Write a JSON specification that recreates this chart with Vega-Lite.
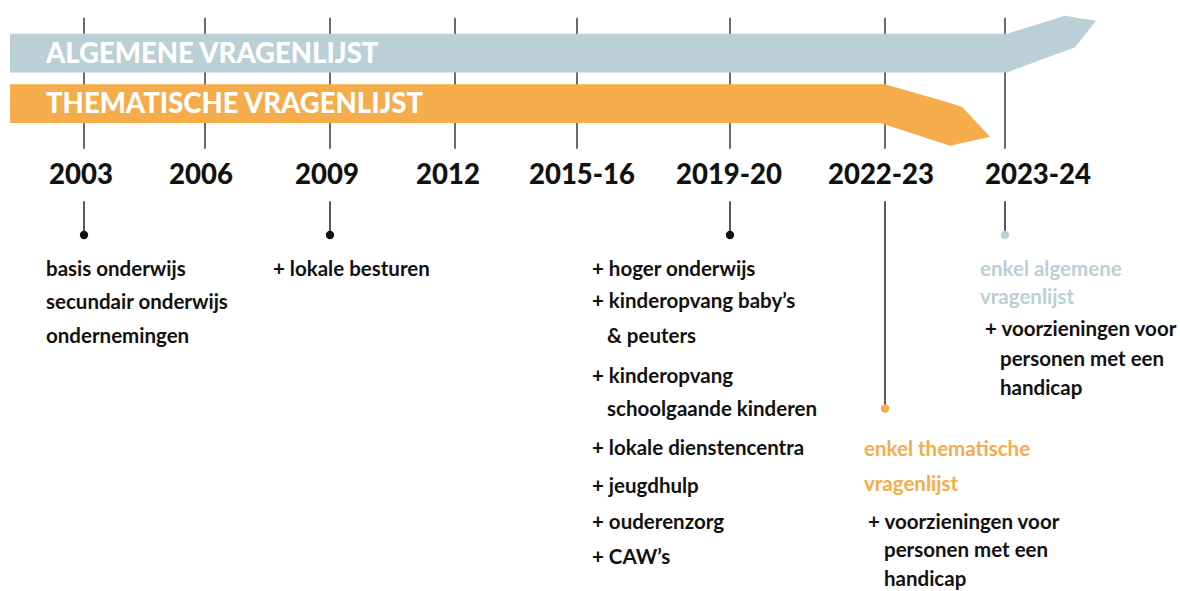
{
  "$schema": "https://vega.github.io/schema/vega-lite/v6.json",
  "width": 1180,
  "height": 591,
  "padding": 0,
  "autosize": {"type": "fit", "contains": "padding"},
  "background": "white",
  "config": {"view": {"stroke": null}},
  "encoding": {
    "x": {"field": "x", "type": "quantitative", "scale": {"domain": [0, 1180], "nice": false, "zero": false}, "axis": null},
    "y": {"field": "y", "type": "quantitative", "scale": {"domain": [0, 591], "nice": false, "zero": false, "reverse": true}, "axis": null}
  },
  "layer": [
    {
      "data": {"values": [
        {"year": "2003", "x": 84, "y": 18, "y2": 150},
        {"year": "2006", "x": 205, "y": 18, "y2": 150},
        {"year": "2009", "x": 330, "y": 18, "y2": 150},
        {"year": "2012", "x": 455, "y": 18, "y2": 150},
        {"year": "2015-16", "x": 577, "y": 18, "y2": 150},
        {"year": "2019-20", "x": 730, "y": 18, "y2": 150},
        {"year": "2022-23", "x": 885, "y": 18, "y2": 150},
        {"year": "2023-24", "x": 1005, "y": 18, "y2": 150}
      ]},
      "mark": {"type": "rule", "color": "#3a3a3a", "strokeWidth": 1.5},
      "encoding": {"y2": {"field": "y2"}}
    },
    {
      "data": {"values": [
        {"band": "algemeen", "x": 10, "y": 34, "y2": 73},
        {"band": "algemeen", "x": 1007, "y": 34, "y2": 73},
        {"band": "algemeen", "x": 1065, "y": 16, "y2": 51.5},
        {"band": "algemeen", "x": 1075, "y": 17.6, "y2": 48},
        {"band": "algemeen", "x": 1096, "y": 21, "y2": 21},
        {"band": "thematisch", "x": 10, "y": 85, "y2": 124},
        {"band": "thematisch", "x": 880, "y": 85, "y2": 124},
        {"band": "thematisch", "x": 885, "y": 85, "y2": 125.6},
        {"band": "thematisch", "x": 950, "y": 104, "y2": 147},
        {"band": "thematisch", "x": 962, "y": 108, "y2": 144.3},
        {"band": "thematisch", "x": 990, "y": 138, "y2": 138}
      ]},
      "mark": {"type": "area", "interpolate": "linear", "opacity": 1},
      "encoding": {
        "y": {"field": "y", "type": "quantitative", "stack": null},
        "y2": {"field": "y2"},
        "color": {"field": "band", "type": "nominal", "scale": {"domain": ["algemeen", "thematisch", "tekst"], "range": ["#BACFD6", "#F5AC4A", "#111111"]}, "legend": null}
      }
    },
    {
      "data": {"values": [
        {"label": "ALGEMENE VRAGENLIJST", "x": 46, "y": 55},
        {"label": "THEMATISCHE VRAGENLIJST", "x": 46, "y": 106}
      ]},
      "mark": {"type": "text", "align": "left", "baseline": "middle", "font": "Lato", "fontWeight": 900, "fontSize": 27.5, "color": "white"},
      "encoding": {"text": {"field": "label"}}
    },
    {
      "data": {"values": [
        {"label": "2003", "x": 81, "y": 178},
        {"label": "2006", "x": 201, "y": 178},
        {"label": "2009", "x": 327, "y": 178},
        {"label": "2012", "x": 448, "y": 178},
        {"label": "2015-16", "x": 582, "y": 178},
        {"label": "2019-20", "x": 729, "y": 178},
        {"label": "2022-23", "x": 881, "y": 178},
        {"label": "2023-24", "x": 1038, "y": 178}
      ]},
      "mark": {"type": "text", "align": "center", "baseline": "middle", "font": "Lato", "fontWeight": 900, "fontSize": 27.5, "color": "#111111"},
      "encoding": {"text": {"field": "label"}}
    },
    {
      "data": {"values": [
        {"event": "2003", "x": 84, "y": 203, "y2": 237},
        {"event": "2009", "x": 330, "y": 203, "y2": 237},
        {"event": "2019-20", "x": 730, "y": 203, "y2": 237},
        {"event": "2022-23", "x": 885, "y": 203, "y2": 410},
        {"event": "2023-24", "x": 1005, "y": 203, "y2": 235}
      ]},
      "mark": {"type": "rule", "color": "#222222", "strokeWidth": 1.5},
      "encoding": {"y2": {"field": "y2"}}
    },
    {
      "data": {"values": [
        {"event": "2003", "x": 84, "y": 237, "band": "tekst"},
        {"event": "2009", "x": 330, "y": 237, "band": "tekst"},
        {"event": "2019-20", "x": 730, "y": 237, "band": "tekst"},
        {"event": "2022-23", "x": 885, "y": 412, "band": "thematisch"},
        {"event": "2023-24", "x": 1005, "y": 237, "band": "algemeen"}
      ]},
      "mark": {"type": "point", "filled": true, "size": 70, "opacity": 1},
      "encoding": {
        "color": {"field": "band", "type": "nominal", "legend": null}
      }
    },
    {
      "data": {"values": [
        {"label": "basis onderwijs", "x": 46, "y": 272, "band": "tekst"},
        {"label": "secundair onderwijs", "x": 46, "y": 306, "band": "tekst"},
        {"label": "ondernemingen", "x": 46, "y": 340, "band": "tekst"},
        {"label": "+ lokale besturen", "x": 273, "y": 272, "band": "tekst"},
        {"label": "+ hoger onderwijs", "x": 592, "y": 272, "band": "tekst"},
        {"label": "+ kinderopvang baby’s", "x": 592, "y": 305, "band": "tekst"},
        {"label": "& peuters", "x": 607, "y": 340, "band": "tekst"},
        {"label": "+ kinderopvang", "x": 592, "y": 380, "band": "tekst"},
        {"label": "schoolgaande kinderen", "x": 607, "y": 413, "band": "tekst"},
        {"label": "+ lokale dienstencentra", "x": 592, "y": 453, "band": "tekst"},
        {"label": "+ jeugdhulp", "x": 592, "y": 491, "band": "tekst"},
        {"label": "+ ouderenzorg", "x": 592, "y": 527, "band": "tekst"},
        {"label": "+ CAW’s", "x": 592, "y": 563, "band": "tekst"},
        {"label": "enkel thematische", "x": 864, "y": 454, "band": "thematisch"},
        {"label": "vragenlijst", "x": 864, "y": 489, "band": "thematisch"},
        {"label": "+ voorzieningen voor", "x": 868, "y": 527, "band": "tekst"},
        {"label": "personen met een", "x": 884, "y": 556, "band": "tekst"},
        {"label": "handicap", "x": 884, "y": 585, "band": "tekst"},
        {"label": "enkel algemene", "x": 980, "y": 272, "band": "algemeen"},
        {"label": "vragenlijst", "x": 980, "y": 301, "band": "algemeen"},
        {"label": "+ voorzieningen voor", "x": 985, "y": 333, "band": "tekst"},
        {"label": "personen met een", "x": 1000, "y": 363, "band": "tekst"},
        {"label": "handicap", "x": 1000, "y": 392, "band": "tekst"}
      ]},
      "mark": {"type": "text", "align": "left", "baseline": "middle", "font": "Lato", "fontWeight": "bold", "fontSize": 20.5},
      "encoding": {
        "text": {"field": "label"},
        "color": {"field": "band", "type": "nominal", "legend": null}
      }
    }
  ]
}
